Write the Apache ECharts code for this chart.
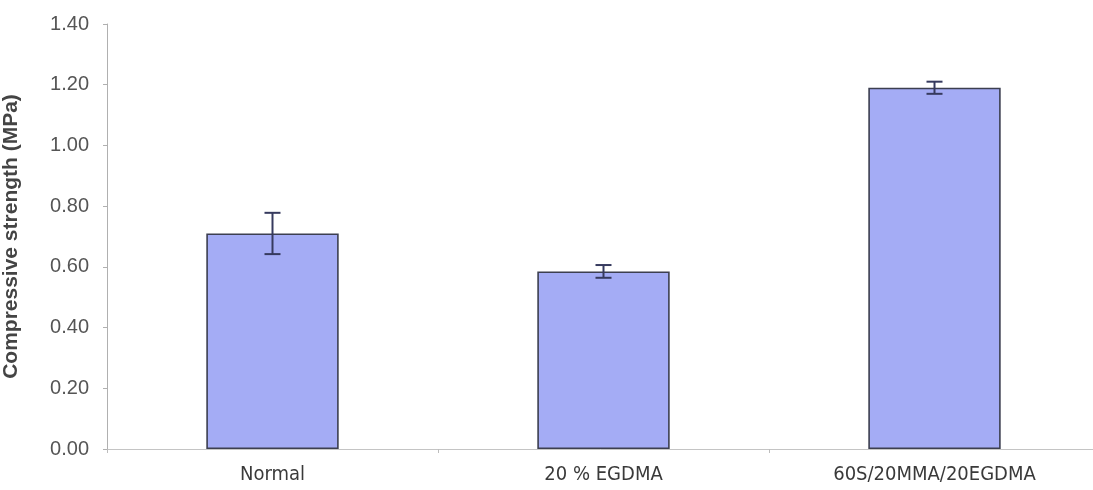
<!DOCTYPE html>
<html><head><meta charset="utf-8">
<script src="https://cdn.jsdelivr.net/npm/echarts@6/dist/echarts.min.js"></script>
<style>html,body{margin:0;padding:0;background:#fff}#c{width:1093px;height:490px}</style>
</head><body><div id="c"></div>
<script>
const categories = ['Normal', '20 % EGDMA', '60S/20MMA/20EGDMA'];
const strength = [0.71, 0.585, 1.19];
const errors = [0.068, 0.021, 0.02];
const yTicks = [0, 0.2, 0.4, 0.6, 0.8, 1.0, 1.2, 1.4];

const chart = echarts.init(document.getElementById('c'));
chart.setOption({
  animation: false,
  grid: { left: 107, right: -7, top: 24, bottom: 41, containLabel: false, outerBoundsMode: 'none' },
  xAxis: {
    type: 'category', data: categories,
    axisLine: { lineStyle: { color: '#c4c4c4', width: 1 } },
    axisTick: { show: true, alignWithLabel: false, length: 4, lineStyle: { color: '#bdbdbd' } },
    axisLabel: { color: '#3a3a3a', fontSize: 20, fontFamily: '"Liberation Sans Narrow", "Arial Narrow", "DejaVu Sans Condensed", "Liberation Sans", Arial, sans-serif', margin: 16 }
  },
  yAxis: {
    type: 'value', min: 0, max: 1.4, interval: 0.2,
    name: 'Compressive strength (MPa)', nameLocation: 'middle', nameGap: 85,
    nameTextStyle: { color: '#444', fontSize: 21, fontWeight: 'bold', fontFamily: '"Liberation Sans", Arial, sans-serif' },
    axisLine: { show: true, lineStyle: { color: '#b0b0b0', width: 1 } },
    axisTick: { show: true, length: 4, lineStyle: { color: '#b0b0b0' } },
    splitLine: { show: false },
    axisLabel: { color: '#555', fontSize: 20, fontFamily: '"Liberation Sans", Arial, sans-serif', margin: 18,
      formatter: v => v.toFixed(2) }
  },
  series: [
    { type: 'bar', data: strength, barWidth: '40%',
      itemStyle: { color: '#a4acf5', borderColor: '#3c3f50', borderWidth: 1.6 } },
    { type: 'custom', data: strength.map((v, i) => [i, v - errors[i], v + errors[i]]),
      z: 10,
      renderItem: (params, api) => {
        const x = api.coord([api.value(0), 0])[0];
        const lo = api.coord([api.value(0), api.value(1)])[1];
        const hi = api.coord([api.value(0), api.value(2)])[1];
        const w = 8;
        const style = { stroke: '#363a5e', lineWidth: 2 };
        return { type: 'group', children: [
          { type: 'line', shape: { x1: x, y1: lo, x2: x, y2: hi }, style },
          { type: 'line', shape: { x1: x - w, y1: hi, x2: x + w, y2: hi }, style },
          { type: 'line', shape: { x1: x - w, y1: lo, x2: x + w, y2: lo }, style }
        ]};
      }
    }
  ]
});
</script></body></html>
